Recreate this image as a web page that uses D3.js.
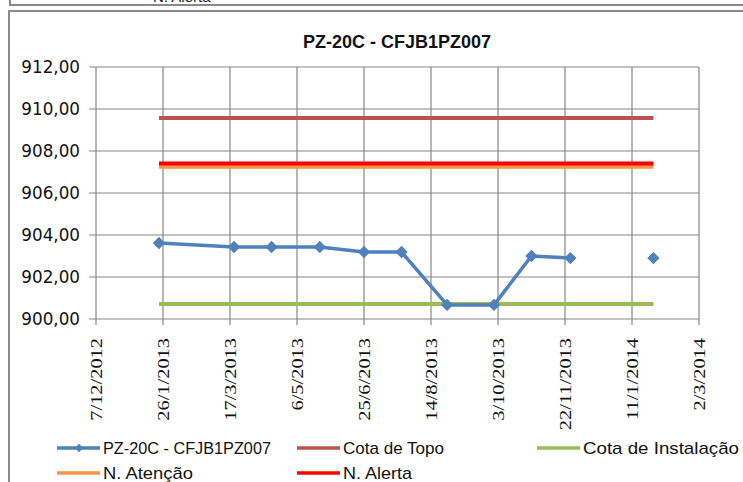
<!DOCTYPE html>
<html>
<head>
<meta charset="utf-8">
<script src="https://cdn.jsdelivr.net/npm/d3@7"></script>
<style>
  body { margin: 0; background: #fff; }
  svg { display: block; }
</style>
</head>
<body>
<div id="chart"></div>
<script>
// data ----------------------------------------------------------------------
const dates = ["23/1/2013", "20/3/2013", "17/4/2013", "23/5/2013", "25/6/2013", "23/7/2013",
               "26/8/2013", "30/9/2013", "28/10/2013", "26/11/2013", "27/12/2013", "27/1/2014"];
const piezo = [903.62, 903.43, 903.43, 903.43, 903.19, 903.19,
               900.67, 900.67, 903.00, 902.90, null, 902.90];
const cotaTopo = 909.57;
const cotaInstalacao = 900.71;
const nAtencao = 907.25;
const nAlerta = 907.40;
const xTickLabels = ["7/12/2012", "26/1/2013", "17/3/2013", "6/5/2013", "25/6/2013",
                     "14/8/2013", "3/10/2013", "22/11/2013", "11/1/2014", "2/3/2014"];
const yTicks = [900, 902, 904, 906, 908, 910, 912];

const parseDate = d3.timeParse("%d/%m/%Y");
const fmtDate = d3.timeFormat("%-d/%-m/%Y");

// 1- Set Up the Chart ---------------------------------------------------------
const svgWidth = 743;
const svgHeight = 482;
const plot = {left: 96, right: 699, top: 67, bottom: 319};

const svg = d3.select("#chart")
    .append("svg")
    .attr("width", svgWidth)
    .attr("height", svgHeight);

svg.append("rect").attr("width", svgWidth).attr("height", svgHeight).attr("fill", "#fff");

// frames (previous chart above + this one)
svg.append("path")
    .attr("d", "M10,-5 L10,5 L743,5")
    .attr("fill", "none").attr("stroke", "#8a8a8a").attr("stroke-width", 2);
svg.append("path")
    .attr("d", "M9,482 L9,11 L743,11")
    .attr("fill", "none").attr("stroke", "#8a8a8a").attr("stroke-width", 2);
svg.append("text")
    .attr("x", 153).attr("y", 2)
    .attr("font-family", "Liberation Sans, sans-serif")
    .attr("font-size", "15px").attr("fill", "#222")
    .text("N. Alerta");

// 2- scales -------------------------------------------------------------------
const xTicks = xTickLabels.map(parseDate);
const x = d3.scaleTime()
    .domain([xTicks[0], xTicks[xTicks.length - 1]])
    .range([plot.left, plot.right]);

const y = d3.scaleLinear()
    .domain([900, 912])
    .range([plot.bottom, plot.top]);

const rows = dates.map((d, i) => ({date: parseDate(d), value: piezo[i]}));

// 3- gridlines ----------------------------------------------------------------
const grid = svg.append("g").attr("stroke", "#868686").attr("stroke-width", 1.2);
grid.selectAll(".hg").data(yTicks).enter().append("line")
    .attr("x1", plot.left - 7).attr("x2", plot.right)
    .attr("y1", d => y(d)).attr("y2", d => y(d));
grid.selectAll(".vg").data(xTicks).enter().append("line")
    .attr("x1", d => x(d)).attr("x2", d => x(d))
    .attr("y1", plot.top).attr("y2", plot.bottom + 6);

// y axis labels
svg.append("g").selectAll("text").data(yTicks).enter().append("text")
    .attr("x", 80).attr("y", d => y(d))
    .attr("dy", "0.36em")
    .attr("text-anchor", "end")
    .attr("font-family", "DejaVu Sans, Verdana, sans-serif")
    .attr("font-size", "16.8px")
    .attr("fill", "#111")
    .text(d => d3.format(".2f")(d).replace(".", ","));

// x axis labels (rotated)
svg.append("g").selectAll("text").data(xTicks).enter().append("text")
    .attr("transform", d => `translate(${x(d) + 6},${plot.bottom + 19}) rotate(-90) scale(1.2,1)`)
    .attr("text-anchor", "end")
    .attr("font-family", "Liberation Serif, Times New Roman, serif")
    .attr("font-size", "17px")
    .attr("fill", "#111")
    .text(d => fmtDate(d));

// 4- series -------------------------------------------------------------------
const first = rows[0].date, last = rows[rows.length - 1].date;
const flat = [
    {value: cotaInstalacao, color: "#9BBB59"},
    {value: cotaTopo, color: "#C0504D"},
    {value: nAtencao, color: "#F79646"},
    {value: nAlerta, color: "#FF0000"}
];
svg.append("g").selectAll("line").data(flat).enter().append("line")
    .attr("x1", x(first)).attr("x2", x(last))
    .attr("y1", d => y(d.value)).attr("y2", d => y(d.value))
    .attr("stroke", d => d.color)
    .attr("stroke-width", 4);

const line = d3.line()
    .defined(d => d.value !== null)
    .x(d => x(d.date))
    .y(d => y(d.value));

svg.append("path")
    .datum(rows)
    .attr("d", line)
    .attr("fill", "none")
    .attr("stroke", "#4F81BD")
    .attr("stroke-width", 3.5)
    .attr("stroke-linejoin", "round");

svg.append("g").selectAll("path").data(rows.filter(d => d.value !== null)).enter().append("path")
    .attr("d", d3.symbol(d3.symbolSquare, 76)())
    .attr("transform", d => `translate(${x(d.date)},${y(d.value)}) rotate(45)`)
    .attr("fill", "#4F81BD");

// 5- title --------------------------------------------------------------------
svg.append("text")
    .attr("x", 397).attr("y", 48)
    .attr("text-anchor", "middle")
    .attr("font-family", "Liberation Sans, sans-serif")
    .attr("font-weight", "bold")
    .attr("font-size", "18px")
    .attr("fill", "#111")
    .text("PZ-20C - CFJB1PZ007");

// 6- legend -------------------------------------------------------------------
const legendItems = [
    {label: "PZ-20C - CFJB1PZ007", color: "#4F81BD", x: 57, y: 448, w: 168, marker: true},
    {label: "Cota de Topo", color: "#C0504D", x: 297, y: 448, w: 101},
    {label: "Cota de Instalação", color: "#9BBB59", x: 537, y: 448, w: 156},
    {label: "N. Atenção", color: "#F79646", x: 57, y: 473, w: 90},
    {label: "N. Alerta", color: "#FF0000", x: 297, y: 473, w: 69}
];
const legend = svg.append("g").selectAll("g").data(legendItems).enter().append("g")
    .attr("transform", d => `translate(${d.x},${d.y})`);
legend.append("line")
    .attr("x1", 0).attr("x2", 43)
    .attr("stroke", d => d.color).attr("stroke-width", 3.5);
legend.filter(d => d.marker).append("path")
    .attr("d", d3.symbol(d3.symbolSquare, 36)())
    .attr("transform", "translate(22,0) rotate(45)")
    .attr("fill", d => d.color);
legend.append("text")
    .attr("x", 46).attr("dy", "0.36em")
    .attr("font-family", "Liberation Sans, sans-serif")
    .attr("font-size", "17px")
    .attr("textLength", d => d.w)
    .attr("lengthAdjust", "spacingAndGlyphs")
    .attr("fill", "#111")
    .text(d => d.label);
</script>
</body>
</html>
